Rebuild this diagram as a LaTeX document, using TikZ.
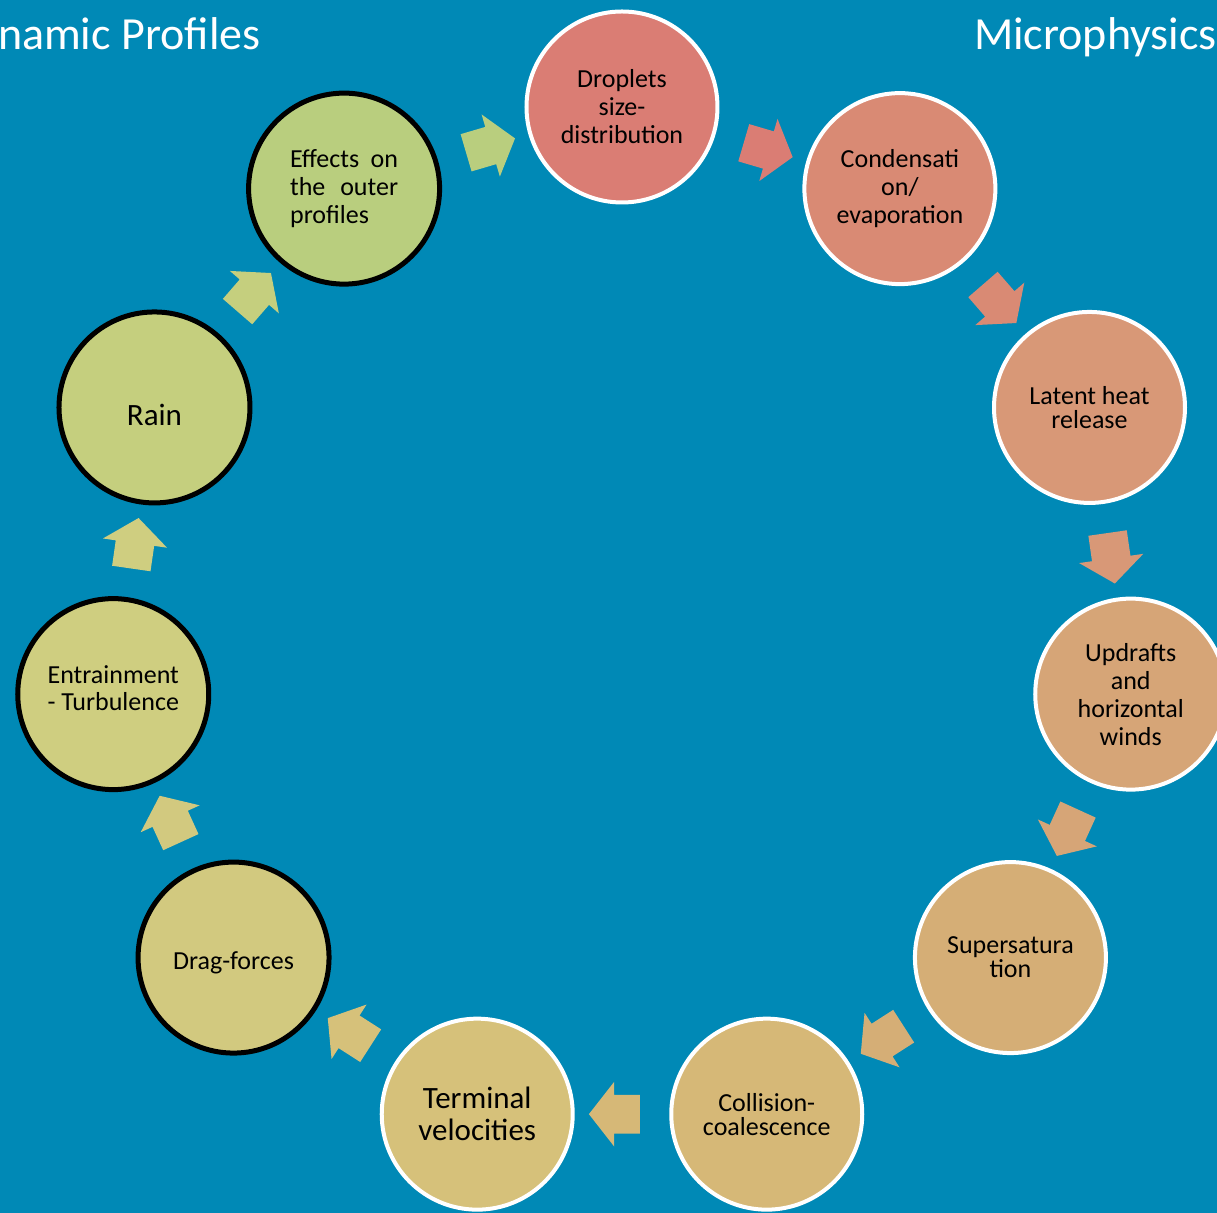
\documentclass[tikz,border=0pt]{standalone}
\usepackage{fontspec}
\setmainfont{Carlito}
\usetikzlibrary{shapes.arrows}

\definecolor{bgblue}{HTML}{0089B6}
\definecolor{c1}{HTML}{DA7D74}
\definecolor{c2}{HTML}{D98A74}
\definecolor{c3}{HTML}{D89877}
\definecolor{c4}{HTML}{D6A577}
\definecolor{c5}{HTML}{D5AE76}
\definecolor{c6}{HTML}{D6B877}
\definecolor{c7}{HTML}{D6C17A}
\definecolor{c8}{HTML}{D2C97F}
\definecolor{c9}{HTML}{CFCE80}
\definecolor{c10}{HTML}{C5CF7E}
\definecolor{c11}{HTML}{B9CE7E}

\begin{document}
\begin{tikzpicture}[x=0.5pt,y=0.5pt,
                main node/.style={circle,draw=white,line width=2pt,minimum size=95.5pt,inner sep=0pt,
                                  align=center,font=\fontsize{13}{14}\selectfont},
                dark node/.style={main node,draw=black,line width=2.5pt},
                flow/.style={draw=none},
                cycle arrow/.style={single arrow,fill=#1,draw=none,inner xsep=0pt,inner ysep=9.5pt,
                                    minimum height=25.5pt,minimum width=0pt,
                                    single arrow head extend=6.5pt,single arrow tip angle=104,
                                    sloped,allow upside down,midway},
                title/.style={text=white,anchor=base west,font=\fontsize{23}{28}\selectfont}]
	\useasboundingbox (-622,-592) rectangle (595,621);
	\clip (-622,-592) rectangle (595,621);
	\fill[bgblue] (-622,-592) rectangle (595,621);

	\node[title] (dyn) at (-631,571) {namic Profiles};
	\node[title] (micro) at (345,571) {Microphysics};

	\node[main node,fill=c1] (1) at (90:514) {Droplets\\size-\\distribution};
	\node[main node,fill=c2] (2) at (57.27:514) {Condensati\\on/\\evaporation};
	\node[main node,fill=c3,font=\fontsize{13}{12}\selectfont] (3) at (24.55:514) {Latent heat\\release};
	\node[main node,fill=c4] (4) at (-8.18:514) {Updrafts\\and\\horizontal\\winds};
	\node[main node,fill=c5,font=\fontsize{13}{12}\selectfont] (5) at (-40.91:514) {Supersatura\\tion};
	\node[main node,fill=c6,font=\fontsize{13}{12}\selectfont] (6) at (-73.64:514) {Collision-\\coalescence};
	\node[main node,fill=c7,font=\fontsize{15.5}{16}\selectfont] (7) at (-106.36:514) {Terminal\\velocities};
	\node[dark node,fill=c8] (8) at (-139.09:514) {\raisebox{-1pt}[10pt][0pt]{Drag-forces}};
	\node[dark node,fill=c9,font=\fontsize{13}{13.5}\selectfont] (9) at (-171.82:514)
		{Entrainment\\\raisebox{0pt}[\height][6pt]{- Turbulence}};
	\node[dark node,fill=c10,font=\fontsize{15.5}{16}\selectfont] (10) at (155.45:514) {\raisebox{-3pt}[12pt][0pt]{Rain}};
	\node[dark node,fill=c11,align=left] (11) at (122.73:514)
		{\makebox[54pt][s]{Effects on}\\\makebox[54pt][s]{the outer}\\profiles};

	\path
	(1) edge[flow] node[cycle arrow=c1] {} (2)
	(2) edge[flow] node[cycle arrow=c2] {} (3)
	(3) edge[flow] node[cycle arrow=c3] {} (4)
	(4) edge[flow] node[cycle arrow=c4] {} (5)
	(5) edge[flow] node[cycle arrow=c5] {} (6)
	(6) edge[flow] node[cycle arrow=c6] {} (7)
	(7) edge[flow] node[cycle arrow=c7] {} (8)
	(8) edge[flow] node[cycle arrow=c8] {} (9)
	(9) edge[flow] node[cycle arrow=c9] {} (10)
	(10) edge[flow] node[cycle arrow=c10] {} (11)
	(11) edge[flow] node[cycle arrow=c11] {} (1);

\end{tikzpicture}
\end{document}
